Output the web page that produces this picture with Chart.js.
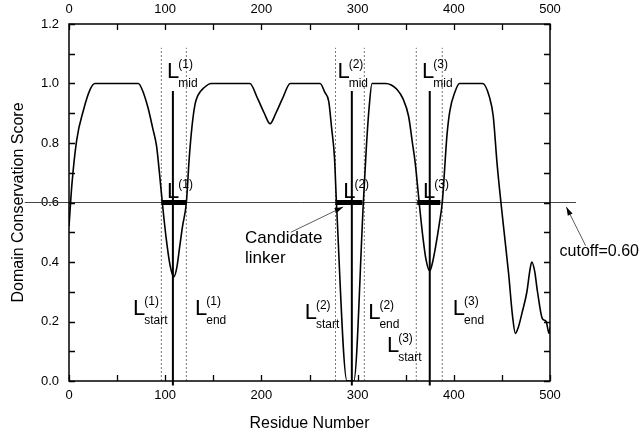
<!DOCTYPE html>
<html>
<head>
<meta charset="utf-8">
<script src="https://cdn.jsdelivr.net/npm/chart.js@4.4.1/dist/chart.umd.min.js"></script>
<style>
  body { margin: 0; background: #fff; }
</style>
</head>
<body>
<canvas id="chart" width="642" height="436"></canvas>
<script>
// conservation profile
var residues = [0, 3, 8, 15, 22, 27, 72, 76, 82, 87, 91, 94, 97, 101, 105, 109, 112, 115, 118, 122, 125, 128, 131, 134, 140, 148,
  188, 196, 203, 209, 215, 222, 230, 261, 266, 270, 273, 276, 278, 289, 293, 296, 306, 309, 312, 315, 329, 335, 341, 347, 353,
  357, 360, 364, 368, 371, 375, 378, 381, 385, 388, 393, 396, 401, 406, 430, 437, 441, 445, 449, 453, 457, 461, 464, 467, 471,
  476, 479, 481, 484, 487, 492, 496, 499, 500];
var scores = [0.52, 0.66, 0.81, 0.91, 0.98, 1.0, 1.0, 0.98, 0.92, 0.85, 0.79, 0.7, 0.6, 0.48, 0.39, 0.35, 0.38, 0.45, 0.52, 0.6, 0.75, 0.86, 0.93, 0.96, 0.985, 1.0,
  1.0, 0.95, 0.9, 0.865, 0.9, 0.95, 1.0, 1.0, 0.97, 0.94, 0.85, 0.75, 0.6, 0.0, 0.0, 0.0, 0.6, 0.78, 0.92, 1.0, 1.0, 0.995, 0.98, 0.95, 0.89,
  0.8, 0.73, 0.6, 0.48, 0.41, 0.37, 0.4, 0.45, 0.53, 0.6, 0.83, 0.91, 0.97, 1.0, 1.0, 0.955, 0.89, 0.73, 0.6, 0.48, 0.36, 0.22, 0.16, 0.18, 0.23,
  0.3, 0.37, 0.4, 0.37, 0.3, 0.21, 0.2, 0.16, 0.18];

var cutoff = 0.6;
var cutoffSpan = [-46, 527];
var linkerStart = [96, 277, 362];
var linkerEnd = [122, 305, 386];
var boundaryLeft = [96, 277, 361];
var boundaryRight = [122, 307, 388];
var boundaryTop = 1.12;
var midPoints = [108, 294, 375];
var midTop = 0.975;

var xTickMarks = [0, 50, 100, 150, 200, 250, 300, 350, 400, 450, 500];
var yTickMarks = [0, 0.1, 0.2, 0.3, 0.4, 0.5, 0.6, 0.7, 0.8, 0.9, 1.0, 1.1, 1.2];

// labels: [sub, sup, x, y]
var labels = [
  ['mid', '(1)', 102, 1.02], ['mid', '(2)', 279, 1.02], ['mid', '(3)', 367, 1.02],
  ['', '(1)', 102, 0.615], ['', '(2)', 285, 0.615], ['', '(3)', 368, 0.615],
  ['start', '(1)', 66.5, 0.222], ['end', '(1)', 131, 0.222],
  ['start', '(2)', 245, 0.21], ['end', '(2)', 311, 0.21],
  ['start', '(3)', 330.5, 0.097], ['end', '(3)', 399, 0.222]
];

var FONT = "Arial, 'Liberation Sans', sans-serif";

function segments(xs, y0, y1) {
  var out = [];
  xs.forEach(function (x) {
    out.push({ x: x, y: y0 }, { x: x, y: y1 }, { x: x, y: null });
  });
  return out;
}

function spans(a, b, y) {
  var out = [];
  a.forEach(function (x, i) {
    out.push({ x: x, y: y }, { x: b[i], y: y }, { x: b[i], y: null });
  });
  return out;
}

var extras = {
  id: 'extras',
  afterDatasetsDraw: function (chart) {
    var ctx = chart.ctx;
    var xs = chart.scales.x, ys = chart.scales.y;
    var a = chart.chartArea;
    ctx.save();
    ctx.strokeStyle = '#000';
    ctx.lineWidth = 1.3;
    ctx.beginPath();
    xTickMarks.forEach(function (v) {
      var px = Math.round(xs.getPixelForValue(v)) + 0.5;
      ctx.moveTo(px, a.bottom); ctx.lineTo(px, a.bottom - 6);
      ctx.moveTo(px, a.top); ctx.lineTo(px, a.top + 6);
    });
    yTickMarks.forEach(function (v) {
      var py = Math.round(ys.getPixelForValue(v)) + 0.5;
      ctx.moveTo(a.left, py); ctx.lineTo(a.left + 6, py);
      ctx.moveTo(a.right, py); ctx.lineTo(a.right - 6, py);
    });
    ctx.stroke();
    ctx.lineWidth = 1.5;
    ctx.strokeRect(a.left, a.top, a.right - a.left, a.bottom - a.top);

    // L labels
    ctx.fillStyle = '#000';
    ctx.textBaseline = 'alphabetic';
    ctx.textAlign = 'left';
    labels.forEach(function (l) {
      var px = xs.getPixelForValue(l[2]);
      var py = ys.getPixelForValue(l[3]);
      ctx.font = '22px ' + FONT;
      ctx.fillText('L', px, py);
      var w = ctx.measureText('L').width - 1;
      ctx.font = '12px ' + FONT;
      ctx.fillText(l[1], px + w, py - 10);
      if (l[0]) ctx.fillText(l[0], px + w, py + 9);
    });

    // notes
    ctx.font = '17px ' + FONT;
    ctx.fillText('Candidate', xs.getPixelForValue(183), ys.getPixelForValue(0.464));
    ctx.fillText('linker', xs.getPixelForValue(183), ys.getPixelForValue(0.397));
    ctx.font = '16px ' + FONT;
    ctx.fillText('cutoff=0.60', xs.getPixelForValue(510), ys.getPixelForValue(0.42));

    function arrow(x0, y0, x1, y1) {
      var p0 = [xs.getPixelForValue(x0), ys.getPixelForValue(y0)];
      var p1 = [xs.getPixelForValue(x1), ys.getPixelForValue(y1)];
      var ang = Math.atan2(p1[1] - p0[1], p1[0] - p0[0]);
      ctx.lineWidth = 0.8;
      ctx.strokeStyle = '#333';
      ctx.beginPath();
      ctx.moveTo(p0[0], p0[1]); ctx.lineTo(p1[0], p1[1]);
      ctx.stroke();
      ctx.beginPath();
      ctx.moveTo(p1[0], p1[1]);
      ctx.lineTo(p1[0] - 9 * Math.cos(ang - 0.3), p1[1] - 9 * Math.sin(ang - 0.3));
      ctx.lineTo(p1[0] - 9 * Math.cos(ang + 0.3), p1[1] - 9 * Math.sin(ang + 0.3));
      ctx.closePath();
      ctx.fillStyle = '#000';
      ctx.fill();
    }
    arrow(230.6, 0.50, 285, 0.585);
    arrow(537, 0.455, 517, 0.585);
    ctx.restore();
  }
};

new Chart('chart', {
  type: 'line',
  data: {
    datasets: [{
      data: residues.map(function (r, i) { return { x: r, y: scores[i] }; }),
      borderColor: '#000',
      borderWidth: 1.6,
      pointRadius: 0,
      cubicInterpolationMode: 'monotone',
      order: 2
    }, {
      data: [{ x: cutoffSpan[0], y: cutoff }, { x: cutoffSpan[1], y: cutoff }],
      borderColor: '#444',
      borderWidth: 1,
      pointRadius: 0,
      clip: false,
      order: 3
    }, {
      data: segments(boundaryLeft.concat(boundaryRight), 0, boundaryTop),
      borderColor: '#777',
      borderWidth: 1,
      borderDash: [2, 2],
      pointRadius: 0,
      spanGaps: false,
      order: 4
    }, {
      data: segments(midPoints, -0.015, midTop),
      borderColor: '#000',
      borderWidth: 2,
      pointRadius: 0,
      spanGaps: false,
      clip: false,
      order: 1
    }, {
      data: spans(linkerStart, linkerEnd, cutoff),
      borderColor: '#000',
      borderWidth: 5,
      borderCapStyle: 'butt',
      pointRadius: 0,
      spanGaps: false,
      order: 0
    }]
  },
  options: {
    responsive: false,
    animation: false,
    layout: { padding: { left: 0, top: 0, right: 92, bottom: 0 } },
    plugins: { legend: { display: false }, tooltip: { enabled: false } },
    scales: {
      x: {
        type: 'linear', position: 'bottom', min: 0, max: 500,
        grid: { display: false, drawTicks: false },
        border: { display: false },
        ticks: { stepSize: 100, color: '#000', padding: 7, font: { size: 13, family: FONT } },
        title: { display: true, text: 'Residue Number', color: '#000', font: { size: 16, family: FONT }, padding: { top: 4, bottom: 3 } },
        afterFit: function (s) { s.height = 55; }
      },
      x2: {
        type: 'linear', position: 'top', min: 0, max: 500,
        grid: { display: false, drawTicks: false },
        border: { display: false },
        ticks: { stepSize: 100, color: '#000', padding: 7, font: { size: 13, family: FONT } },
        afterFit: function (s) { s.height = 24; }
      },
      y: {
        min: 0, max: 1.2,
        grid: { display: false, drawTicks: false },
        border: { display: false },
        ticks: { stepSize: 0.2, color: '#000', padding: 10, font: { size: 13, family: FONT },
          callback: function (v) { return v.toFixed(1); } },
        title: { display: true, text: 'Domain Conservation Score', color: '#000', font: { size: 16, family: FONT }, padding: { top: 9, bottom: 4 } },
        afterFit: function (s) { s.width = 69; }
      }
    }
  },
  plugins: [extras]
});
</script>
</body>
</html>
